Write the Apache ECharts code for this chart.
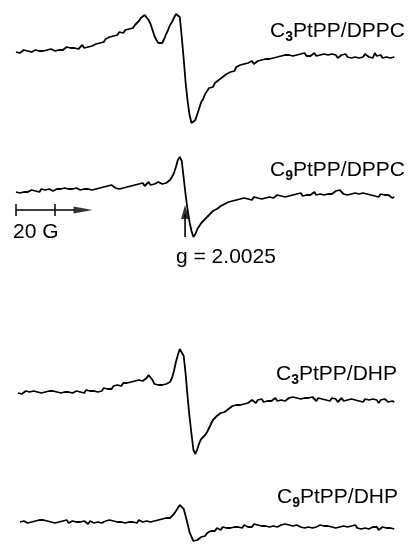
<!DOCTYPE html>
<html>
<head>
<meta charset="utf-8">
<script src="https://cdn.jsdelivr.net/npm/echarts@6/dist/echarts.min.js"></script>
<style>
html,body{margin:0;padding:0;background:#fff;}
#chart{width:411px;height:546px;}
</style>
</head>
<body>
<div id="chart"></div>
<script>
// Magnetic field axis (G), relative to start of sweep
const field = [0,1,2,3,4,5,6,7,8,9,10,11,12,13,14,15,16,17,18,19,20,21,22,23,24,25,26,27,28,29,30,31,32,33,34,35,36,37,38,39,40,41,42,43,44,45,46,47,48,49,50,51,52,53,54,55,56,57,58,59,60,61,62,63,64,65,66,67,68,69,70,71,72,73,74,75,76,77,78,79,80,81,82,83,84,85,86,87,88,89,90,91,92,93,94,95,96,97,98,99,100,101,102,103,104,105,106,107,108,109,110,111,112,113,114,115,116,117,118,119,120,121,122,123,124,125,126,127,128,129,130,131,132,133,134,135,136,137,138,139,140,141,142,143,144,145,146,147,148,149,150,151,152,153,154,155,156,157,158,159,160,161,162,163,164,165,166,167,168,169,170,171,172,173,174,175,176,177,178,179,180,181,182,183,184,185,186,187,188,189,190,191,192,193,194];

// EPR signal amplitudes (arbitrary units)
const c3DPPC = [
 -1,0,-2,0,1,-1,0,1,-1,0,
 1,-1,0,2,0,-1,1,0,2,1,
 0,2,1,3,1,2,4,2,3,1,
 3,5,2,4,6,3,5,4,6,5,
 6,7,6,8,10,9,12,11,14,13,
 15,17,16,19,20,18,21,19,22,20,
 23,26,28,30,33,34,36,35,31,27,
 21,15,11,8,7,8,12,17,21,26,
 29,33,37,38,34,14,-8,-32,-50,-64,
 -72,-74,-69,-63,-57,-51,-48,-43,-41,-37,
 -35,-36,-32,-31,-29,-30,-26,-27,-23,-22,
 -21,-19,-20,-16,-17,-14,-15,-13,-14,-12,
 -12,-10,-13,-11,-10,-12,-9,-10,-8,-10,
 -8,-9,-7,-8,-6,-7,-5,-7,-4,-6,
 -4,-3,-5,-3,-4,-6,-3,-4,-2,-5,
 -3,-5,-4,-2,-5,-3,-4,-6,-3,-5,
 -4,-6,-3,-5,-4,-7,-5,-4,-6,-3,
 -6,-4,-7,-5,-6,-4,-7,-5,-6,-3,
 -5,-6,-4,-7,-2,-5,-6,-4,-7,-5,
 -6,-4,-7,-5,-6];
const c9DPPC = [
 -2,-1,-3,-1,-2,0,-2,-1,0,-2,
 -1,0,-2,1,-1,0,-1,1,0,-1,
 0,1,-1,1,0,2,0,1,-1,1,
 0,2,1,0,2,1,3,1,2,0,
 2,1,3,2,1,3,2,4,3,5,
 4,2,3,1,3,2,4,3,2,4,
 3,5,4,6,5,7,4,6,8,5,
 7,6,5,8,7,6,8,7,9,10,
 13,17,23,30,33,29,12,-5,-20,-32,
 -41,-47,-44,-39,-36,-33,-32,-29,-28,-25,
 -24,-21,-22,-19,-18,-16,-17,-14,-15,-12,
 -13,-11,-12,-10,-11,-9,-10,-8,-10,-9,
 -8,-10,-7,-9,-8,-6,-9,-7,-8,-6,
 -7,-5,-8,-6,-5,-7,-6,-4,-7,-5,
 -6,-4,-5,-7,-4,-5,-3,-6,-4,-5,
 -3,-5,-4,-2,-5,-3,-4,-2,-5,-3,
 -4,-2,-4,-3,-1,-3,0,-2,-4,-3,
 -5,-3,-4,-6,-3,-5,-4,-6,-3,-5,
 -4,-6,-5,-3,-6,-5,-7,-4,-6,-5,
 -7,-5,-6,-8,-7];
const c3DHP = [
 null,-1,0,-2,-1,1,-1,0,-2,1,
 -1,0,2,-1,1,0,2,1,3,1,
 2,0,1,-1,1,0,-2,0,1,-1,
 0,1,-1,0,1,-1,2,0,1,2,
 1,3,0,2,1,4,2,3,5,3,
 6,5,7,8,6,9,7,9,8,10,
 9,11,10,12,10,11,13,14,17,16,
 12,8,6,7,5,7,6,8,7,10,
 14,21,30,37,43,42,36,18,-5,-25,
 -42,-58,-62,-57,-51,-47,-45,-43,-40,-36,
 -32,-28,-27,-24,-22,-21,-19,-20,-18,-17,
 -16,-14,-15,-13,-12,-13,-11,-12,-10,-11,
 -10,-8,-9,-11,-8,-9,-7,-10,-8,-9,
 -7,-9,-8,-6,-9,-7,-8,-6,-9,-7,
 -6,-8,-5,-7,-6,-4,-7,-5,-6,-8,
 -6,-8,-5,-7,-9,-6,-8,-7,-5,-8,
 -7,-9,-6,-8,-7,-10,-8,-6,-9,-7,
 -8,-10,-7,-9,-8,-6,-9,-8,-10,-7,
 -9,-8,-10,-7,-9,-8,-11,-8,-9,-7,
 -9,-10,-8,-9,-10];
const c9DHP = [
 null,null,0,-1,1,0,-1,1,0,2,
 1,0,2,3,2,4,1,2,0,1,
 -1,1,0,-1,1,0,2,-1,0,1,
 -1,0,2,0,-1,1,0,-2,1,0,
 -1,1,0,2,-1,0,1,-1,2,0,
 1,-1,0,2,0,1,-1,1,0,2,
 0,1,-1,2,1,0,2,1,3,0,
 2,1,3,2,1,3,2,4,3,4,
 6,8,11,14,17,19,13,6,-2,-10,
 -15,-19,-20,-18,-16,-15,-13,-14,-11,-10,
 -9,-8,-9,-6,-7,-8,-5,-7,-6,-4,
 -6,-4,-5,-3,-5,-4,-6,-3,-4,-5,
 -3,-5,-2,-4,-3,-5,-4,-2,-4,-3,
 -5,-3,-4,-2,-5,-4,-3,-5,-2,-4,
 -3,-5,-4,-6,-3,-4,-5,-3,-6,-4,
 -5,-3,-6,-4,-5,-6,-3,-5,-4,-6,
 -4,-6,-5,-3,-6,-4,-5,-7,-4,-6,
 -5,-7,-4,-6,-3,-6,-5,-7,-5,-6,
 -4,-7,-6,-5,-7,-5,-8,-6,-5,-7,
 -6,-8,-6,-7,-7];

const traceNames = ['C3PtPP/DPPC','C9PtPP/DPPC','C3PtPP/DHP','C9PtPP/DHP'];
const labelParts = [['C','3','PtPP/DPPC'],['C','9','PtPP/DPPC'],['C','3','PtPP/DHP'],['C','9','PtPP/DHP']];

// Scale bar (G) and g-marker
const scaleTicks = [0, 20];
const scaleLineEnd = 30;
const scaleArrowAt = 34.4;
const scaleLabel = '20 G';
const gMarkerField = 86.7;
const gLabel = 'g = 2.0025';

const traces = [c3DPPC, c9DPPC, c3DHP, c9DHP];

const FONT = '"Liberation Sans", Arial, Helvetica, sans-serif';
const grids = [
  {left:16, width:378.3, top:0,   height:140},
  {left:16, width:378.3, top:140, height:140},
  {left:16, width:378.3, top:330, height:140},
  {left:16, width:378.3, top:460, height:86}
];
const yRanges = [[-89,51],[-90,50],[-78,62],[-24,62]];

const xAxes = grids.map((g,i)=>({type:'value', gridIndex:i, min:0, max:194, show:false}));
const yAxes = grids.map((g,i)=>({type:'value', gridIndex:i, min:yRanges[i][0], max:yRanges[i][1], show:false}));

const lineStyle = {color:'#000', width:1.8};
const series = traces.map((vals,i)=>({
  name: traceNames[i], type:'line', xAxisIndex:i, yAxisIndex:i,
  data: field.map((f,j)=>[f, vals[j]]),
  symbol:'none', lineStyle: lineStyle, silent:true, animation:false
}));

// scale bar in grid 1
const barY = -20;
series.push({type:'line', xAxisIndex:1, yAxisIndex:1, symbol:'none', animation:false,
  lineStyle:{color:'#000', width:1.5}, data:[[scaleTicks[0], barY],[scaleLineEnd, barY]]});
scaleTicks.forEach(t=>{
  series.push({type:'line', xAxisIndex:1, yAxisIndex:1, symbol:'none', animation:false,
    lineStyle:{color:'#000', width:1.5}, data:[[t, barY+6],[t, barY-6]]});
});
series.push({type:'scatter', xAxisIndex:1, yAxisIndex:1, animation:false,
  symbol:'triangle', symbolRotate:-90, symbolSize:[7,19],
  itemStyle:{color:'#000'}, data:[[scaleArrowAt, barY]]});

// g marker arrow in grid 1
series.push({type:'line', xAxisIndex:1, yAxisIndex:1, symbol:'none', animation:false,
  lineStyle:{color:'#000', width:1.6}, data:[[gMarkerField, -47],[gMarkerField, -24]]});
series.push({type:'scatter', xAxisIndex:1, yAxisIndex:1, animation:false,
  symbol:'triangle', symbolSize:[8,14],
  itemStyle:{color:'#000'}, data:[[gMarkerField, -22]]});

const rich = {
  n:{fontSize:21, fontFamily:FONT, color:'#000', lineHeight:25},
  s:{fontSize:14, fontFamily:FONT, color:'#000', fontWeight:'bold', lineHeight:14, verticalAlign:'bottom'}
};
const labelPos = [{right:6, top:19},{right:6, top:158},{right:14, top:362},{right:13, top:485}];
const titles = labelParts.map((p,i)=>Object.assign({
  text:'{n|'+p[0]+'}{s|'+p[1]+'}{n|'+p[2]+'}', padding:0,
  textStyle:{rich:rich, fontSize:21, fontWeight:'normal', color:'#000'}
}, labelPos[i]));
titles.push({text:scaleLabel, left:13, top:220, padding:0,
  textStyle:{fontSize:21, fontWeight:'normal', fontFamily:FONT, color:'#000', lineHeight:25}});
titles.push({text:gLabel, left:176, top:245, padding:0,
  textStyle:{fontSize:21, fontWeight:'normal', fontFamily:FONT, color:'#000', lineHeight:25}});

const chart = echarts.init(document.getElementById('chart'), null, {renderer:'canvas'});
chart.setOption({
  backgroundColor:'#fff',
  animation:false,
  title: titles,
  grid: grids,
  xAxis: xAxes,
  yAxis: yAxes,
  series: series
});
</script>
</body>
</html>
